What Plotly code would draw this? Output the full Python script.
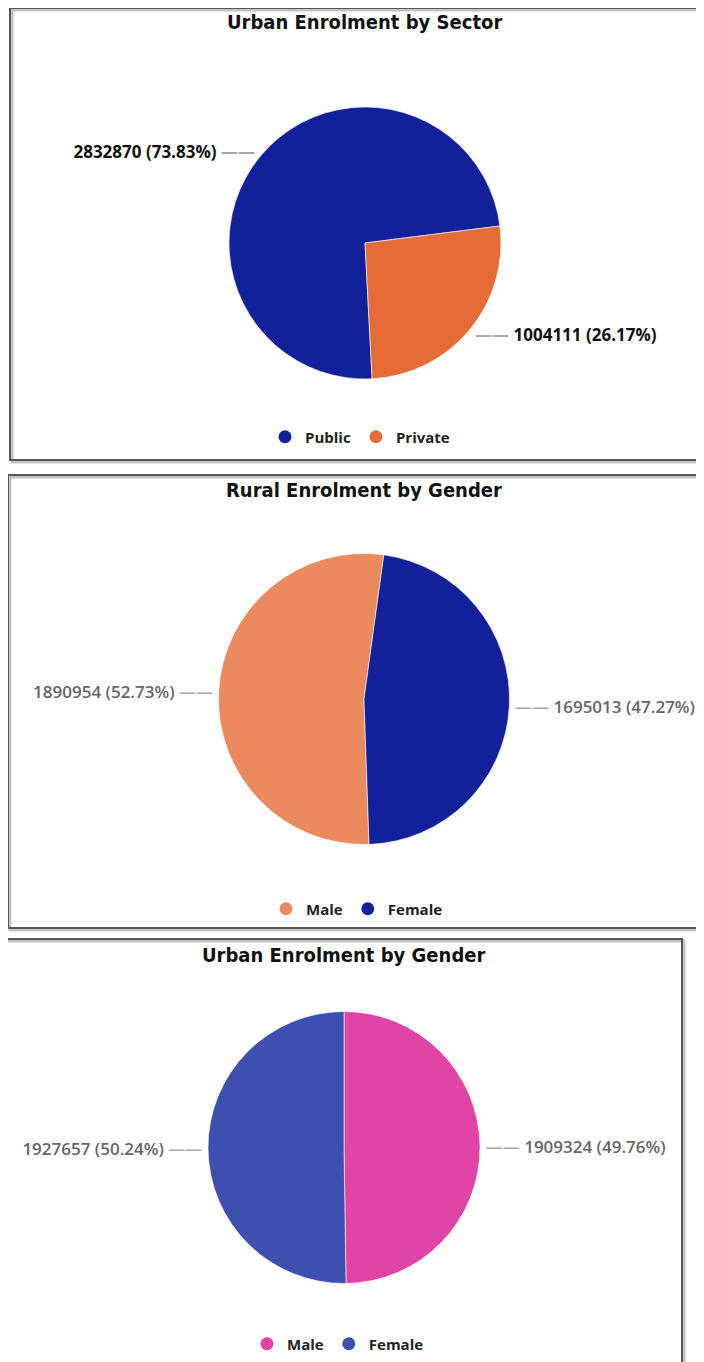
import plotly.graph_objects as go

# page body has an 8px margin, so the figure is sized and positioned to compensate
OFF = 8
W, H = 704 - OFF, 1362 - OFF

# ---- data ----
sector_labels = ["Public", "Private"]
sector_values = [2832870, 1004111]
sector_colors = ["#12209A", "#E66C37"]

rural_labels = ["Male", "Female"]
rural_values = [1890954, 1695013]
rural_colors = ["#EB895F", "#12209A"]

urban_labels = ["Male", "Female"]
urban_values = [1909324, 1927657]
urban_colors = ["#E044A7", "#3F4FAF"]

titles = ["Urban Enrolment by Sector", "Rural Enrolment by Gender", "Urban Enrolment by Gender"]


def px(x):
    return (x - OFF) / W


def py(y):
    return 1 - (y - OFF) / H


LINE = "<span style='color:#a8a8a8'>\u2014\u2014</span>"
LEFT_T = "%{value:.0f} (%{percent:.2%}) " + LINE
RIGHT_T = LINE + " %{value:.0f} (%{percent:.2%})"

fig = go.Figure()

pies = [
    (sector_labels, sector_values, sector_colors, 365, 243, 272, 177, [LEFT_T, RIGHT_T],
     dict(family="Open Sans", size=17, color="#111111", weight="bold"), "legend"),
    (rural_labels, rural_values, rural_colors, 364, 699, 291, 178, [LEFT_T, RIGHT_T],
     dict(family="Open Sans", size=17, color="#666666", weight=600), "legend2"),
    (urban_labels, urban_values, urban_colors, 344, 1147.5, 272, 0, [RIGHT_T, LEFT_T],
     dict(family="Open Sans", size=17, color="#666666", weight=600), "legend3"),
]

for labels, values, colors, cx, cy, d, rot, tmpl, font, lg in pies:
    fig.add_trace(go.Pie(
        labels=labels, values=values, sort=False, direction="clockwise", rotation=rot,
        marker=dict(colors=colors, line=dict(color="white", width=0.6)),
        textposition="outside", texttemplate=tmpl, textfont=font,
        domain=dict(x=[px(cx - d / 2), px(cx + d / 2)], y=[py(cy + d / 2), py(cy - d / 2)]),
        showlegend=False, hoverinfo="label+value+percent",
    ))
    for lab, col in zip(labels, colors):
        fig.add_trace(go.Scatter(
            x=[None], y=[None], mode="markers", name=lab,
            marker=dict(symbol="circle", size=13, color=col),
            legend=lg, showlegend=True,
        ))

legend_common = dict(orientation="h", xanchor="center", yanchor="middle",
                     font=dict(family="Open Sans", size=15, color="#222222", weight="bold"),
                     bgcolor="rgba(0,0,0,0)", itemwidth=30, tracegroupgap=0)
fig.update_layout(
    legend=dict(x=px(360), y=py(437), **legend_common),
    legend2=dict(x=px(357), y=py(909), **legend_common),
    legend3=dict(x=px(338), y=py(1344), **legend_common),
)

# titles
for t, (tx, ty) in zip(titles, [(364, 22), (364, 490), (343, 955)]):
    fig.add_annotation(text=t, x=px(tx), y=py(ty), xref="paper", yref="paper",
                       showarrow=False, xanchor="center", yanchor="middle",
                       font=dict(family="DejaVu Sans Condensed", size=20, color="#111111", weight="bold"))

# panel borders
panels = [(10, 8, 702, 460), (8, 475, 708, 928), (2, 939, 682, 1370)]
for x0, y0, x1, y1 in panels:
    fig.add_shape(type="rect", xref="paper", yref="paper",
                  x0=px(x0 + 2), x1=px(x1 + 2), y0=py(y1 + 2), y1=py(y0 + 2),
                  line=dict(color="#c4c4c4", width=3), layer="below")
    fig.add_shape(type="rect", xref="paper", yref="paper",
                  x0=px(x0), x1=px(x1), y0=py(y1), y1=py(y0),
                  line=dict(color="#555555", width=2), layer="above")

fig.update_xaxes(visible=False)
fig.update_yaxes(visible=False)
fig.update_layout(width=W, height=H, margin=dict(l=0, r=0, t=0, b=0),
                  paper_bgcolor="white", plot_bgcolor="white")

fig.write_html("out.html")
